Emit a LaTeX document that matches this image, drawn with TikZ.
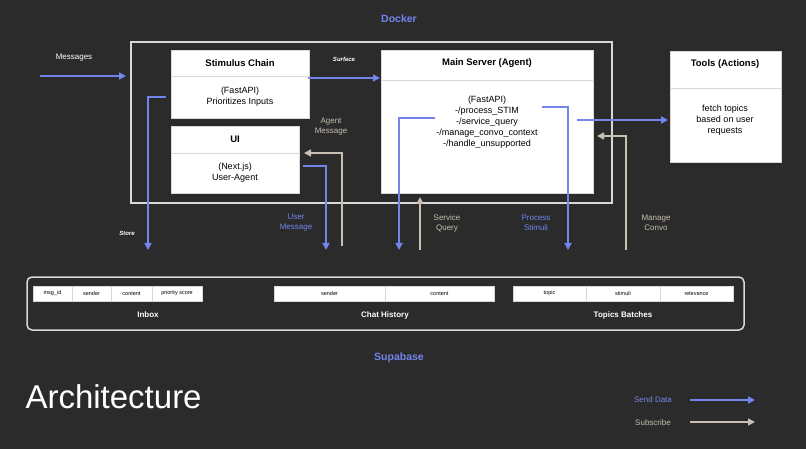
\documentclass[tikz,border=0pt]{standalone}
\usepackage{fontspec}
\setmainfont{Liberation Sans}
\usetikzlibrary{arrows.meta}
\definecolor{bg}{HTML}{2B2B2B}
\definecolor{blu}{HTML}{7385EC}
\definecolor{bei}{HTML}{C8BFB2}
\definecolor{frm}{HTML}{D8D8D8}
\begin{document}
\begin{tikzpicture}[x=1pt,y=-1pt,
  box/.style={draw=frm,fill=white,line width=0.8pt},
  sa/.style={blu,line width=1.6pt,-{Triangle[length=7pt,width=7pt]}},
  sb/.style={bei,line width=1.6pt,-{Triangle[length=7pt,width=7pt]}},
  ttl/.style={font=\bfseries\fontsize{9.5}{11}\selectfont,text=black},
  bod/.style={font=\fontsize{9}{11}\selectfont,text=black,align=center},
  lbl/.style={font=\fontsize{8}{10}\selectfont,align=center},
  cell/.style={draw=frm,fill=white,line width=0.5pt},
  ctxt/.style={font=\fontsize{5.5}{6}\selectfont,text=black},
  dbl/.style={font=\bfseries\fontsize{8}{10}\selectfont,text=white}]
\fill[bg] (0,0) rectangle (806,449);
\useasboundingbox (0,0) rectangle (806,449);
\node[text=blu,font=\bfseries\fontsize{10.5}{12}\selectfont] (docker) at (399,19) {Docker};
\draw[frm,line width=1.5pt] (131,42) rectangle (612,203);
% Stimulus chain
\draw[box] (171,50) rectangle (309,118); \draw[frm] (171,76)--(309,76);
\node[ttl] (sct) at (240,63) {Stimulus Chain};
\node[bod] (scb) at (240,97) {(FastAPI)\\Prioritizes Inputs};
% UI
\draw[box] (171,126) rectangle (299,193); \draw[frm] (171,153)--(299,153);
\node[ttl] (uit) at (235,139) {UI};
\node[bod] (uib) at (235,173) {(Next.js)\\User-Agent};
% Main server
\draw[box] (381,50) rectangle (593,193); \draw[frm] (381,80)--(593,80);
\node[ttl] (mst) at (487,63) {Main Server (Agent)};
\node[bod] (msb) at (487,122) {(FastAPI)\\-/process\_STIM\\-/service\_query\\-/manage\_convo\_context\\-/handle\_unsupported};
% Tools
\draw[box] (670,51) rectangle (781,162); \draw[frm] (670,88)--(781,88);
\node[ttl] (tt) at (725,64) {Tools (Actions)};
\node[bod] (tb) at (725,120) {fetch topics\\based on user\\requests};
% Supabase
\draw[frm,line width=1.5pt,rounded corners=5pt] (27,277) rectangle (744,330);
\foreach \a/\b/\t in {33/72/msg\_id,72/111/sender,111/152/content,152/202/priority score,274/385/sender,385/494/content,513/586/topic,586/660/stimuli,660/733/relevance}
  {\draw[cell] (\a,286) rectangle (\b,301); \node[ctxt] at ({(\a+\b)/2},293.5) {\t};}
\node[dbl] (inbox) at (148,315) {Inbox};
\node[dbl] (chat) at (385,315) {Chat History};
\node[dbl] (topics) at (623,315) {Topics Batches};
\node[text=blu,font=\bfseries\fontsize{10.5}{12}\selectfont] (supa) at (399,358) {Supabase};
% arrows
\coordinate (m0) at (40,76); \coordinate (m1) at (126,76);
\node[lbl,text=white] (msg) at (74,58) {Messages};
\draw[sa] (m0)--(m1);
\node[lbl,text=white,font=\bfseries\itshape\fontsize{6}{7}\selectfont] (surf) at (344,59) {Surface};
\coordinate (s0) at (308,78); \coordinate (s1) at (380,78);
\draw[sa] (s0)--(s1);
\coordinate (st0) at (166,97); \coordinate (st1) at (148,250);
\draw[sa] (st0)-|(st1);
\node[lbl,text=white,font=\bfseries\itshape\fontsize{6}{7}\selectfont] (store) at (127,233) {Store};
\coordinate (u0) at (303,166); \coordinate (u1) at (326,250);
\draw[sa] (u0)-|(u1);
\node[lbl,text=blu] (um) at (296,223) {User\\Message};
\coordinate (a0) at (342,246); \coordinate (a1) at (304,153);
\draw[sb] (a0)|-(a1);
\node[lbl,text=bei] (am) at (331,127) {Agent\\Message};
\coordinate (q0) at (420,250); \coordinate (q1) at (420,197);
\draw[sb] (q0)--(q1);
\node[lbl,text=bei] (sq) at (447,223) {Service\\Query};
\coordinate (c0) at (435,118); \coordinate (c1) at (399,250);
\draw[sa] (c0)-|(c1);
\coordinate (p0) at (542,107); \coordinate (p1) at (568,250);
\draw[sa] (p0)-|(p1);
\node[lbl,text=blu] (ps) at (536,223) {Process\\Stimuli};
\coordinate (g0) at (626,250); \coordinate (g1) at (597,136);
\draw[sb] (g0)|-(g1);
\node[lbl,text=bei] (mc) at (656,223) {Manage\\Convo};
\coordinate (t0) at (577,120); \coordinate (t1) at (668,120);
\draw[sa] (t0)--(t1);
% title & legend
\node[anchor=west,text=white,font=\fontsize{33}{36}\selectfont] (arch) at (22,397) {Architecture};
\node[lbl,text=blu] (sd) at (653,400) {Send Data};
\node[lbl,text=bei] (sub) at (653,423) {Subscribe};
\coordinate (l0) at (690,400); \coordinate (l1) at (755,400);
\coordinate (l2) at (690,422); \coordinate (l3) at (755,422);
\draw[sa] (l0)--(l1); \draw[sb] (l2)--(l3);
\end{tikzpicture}
\end{document}
